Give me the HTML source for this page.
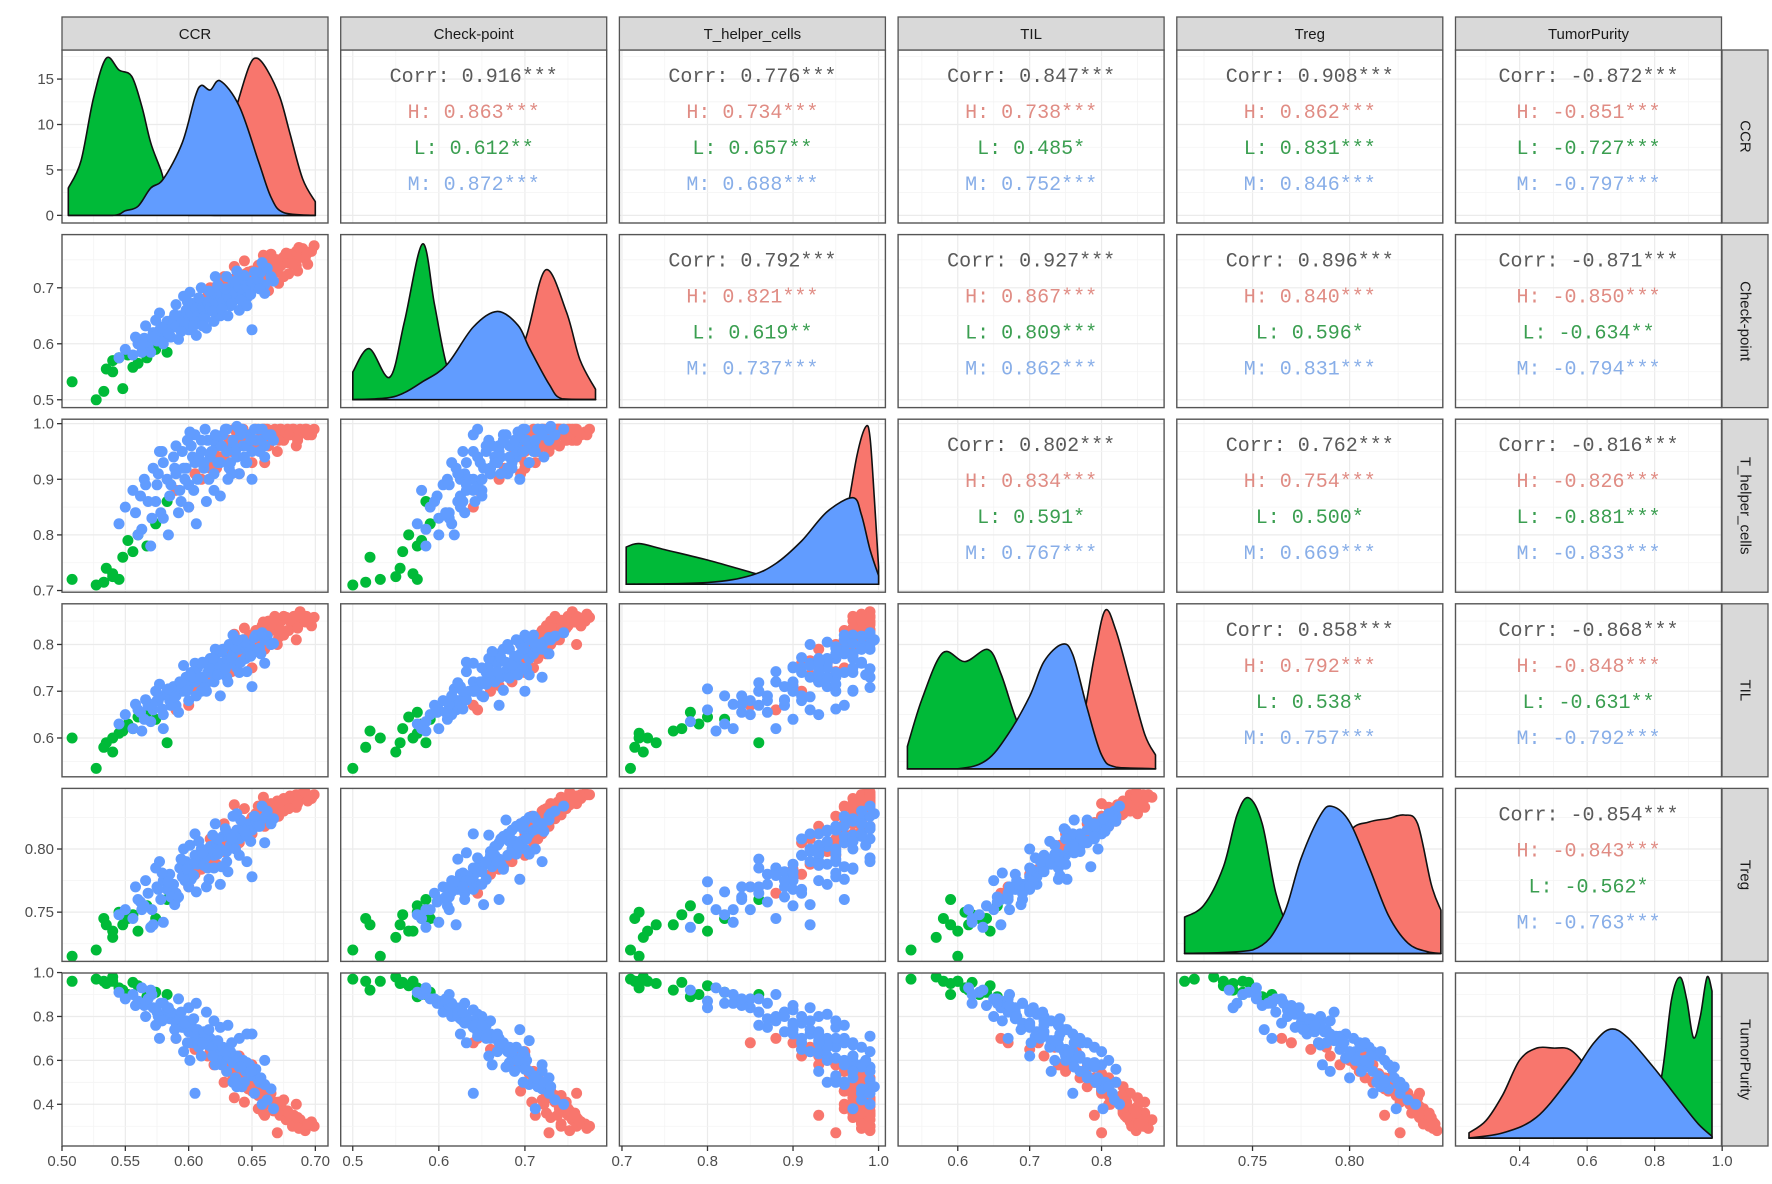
<!DOCTYPE html>
<html><head><meta charset="utf-8"><title>Pairs plot</title>
<style>html,body{margin:0;padding:0;background:#fff}svg{display:block}</style></head>
<body>
<svg id="chart" width="1772" height="1184" viewBox="0 0 1772 1184" xmlns="http://www.w3.org/2000/svg"></svg>
<script>
const varNames=['CCR','Check-point','T_helper_cells','TIL','Treg','TumorPurity'];
const varDomains=[[0.50,0.71],[0.486,0.795],[0.697,1.008],[0.517,0.887],[0.711,0.848],[0.21,0.998]];
const tickCCR=[0.50,0.55,0.60,0.65,0.70];
const tickCP=[0.5,0.6,0.7];
const tickTH=[0.7,0.8,0.9,1.0];
const tickTIL=[0.6,0.7,0.8];
const tickTREG=[0.75,0.80];
const tickTP=[0.4,0.6,0.8,1.0];
const tickLabelCCR=['0.50','0.55','0.60','0.65','0.70'];
const tickLabelCP=['0.5','0.6','0.7'];
const tickLabelTH=['0.7','0.8','0.9','1.0'];
const tickLabelTIL=['0.6','0.7','0.8'];
const tickLabelTREG=['0.75','0.80'];
const tickLabelTP=['0.4','0.6','0.8','1.0'];
const densTicks=[0,5,10,15];
const densTickLabels=['0','5','10','15'];
const groups=['H','L','M'];
const groupColors=['#F8766D','#00BA38','#619CFF'];
const groupText=['#e08c84','#3a9e50','#88aee8'];

// scatter rows: [CCR, CP, Th, TIL, Treg, TP]
const pointsH=[
[0.590,0.645,0.88,0.66,0.765,0.70],[0.605,0.660,0.91,0.70,0.780,0.65],[0.615,0.685,0.93,0.72,0.790,0.62],
[0.620,0.700,0.95,0.74,0.795,0.58],[0.625,0.690,0.94,0.76,0.800,0.60],[0.630,0.710,0.96,0.75,0.805,0.55],
[0.632,0.700,0.97,0.78,0.810,0.57],[0.635,0.715,0.95,0.77,0.808,0.52],[0.638,0.705,0.98,0.80,0.815,0.54],
[0.640,0.720,0.96,0.79,0.812,0.50],[0.643,0.710,0.99,0.81,0.818,0.52],[0.645,0.725,0.97,0.78,0.820,0.48],
[0.648,0.715,0.98,0.82,0.822,0.50],[0.650,0.730,0.96,0.80,0.825,0.46],[0.653,0.720,0.99,0.83,0.828,0.48],
[0.655,0.735,0.97,0.81,0.824,0.44],[0.658,0.725,0.98,0.84,0.830,0.45],[0.660,0.740,0.99,0.82,0.832,0.42],
[0.663,0.730,0.97,0.85,0.828,0.43],[0.665,0.745,0.98,0.83,0.835,0.40],[0.668,0.735,0.99,0.86,0.833,0.41],
[0.670,0.750,0.98,0.84,0.838,0.38],[0.673,0.740,0.99,0.85,0.836,0.39],[0.675,0.755,0.97,0.86,0.840,0.36],
[0.678,0.745,0.99,0.83,0.838,0.37],[0.680,0.760,0.98,0.85,0.842,0.34],[0.683,0.750,0.99,0.86,0.840,0.35],
[0.685,0.765,0.98,0.84,0.843,0.32],[0.688,0.755,0.99,0.87,0.841,0.33],[0.690,0.770,0.985,0.85,0.844,0.31],
[0.693,0.760,0.99,0.86,0.842,0.30],[0.697,0.765,0.98,0.84,0.840,0.32],[0.670,0.728,0.95,0.80,0.826,0.27],
[0.660,0.712,0.93,0.79,0.818,0.35],[0.640,0.695,0.91,0.76,0.805,0.62],[0.655,0.740,0.96,0.83,0.834,0.38],
[0.675,0.720,0.985,0.82,0.830,0.42],[0.600,0.640,0.85,0.67,0.770,0.68],[0.650,0.700,0.93,0.75,0.812,0.58],
[0.665,0.760,0.97,0.80,0.836,0.45],[0.685,0.740,0.96,0.81,0.833,0.40],[0.628,0.720,0.96,0.79,0.820,0.50],
[0.622,0.676,0.92,0.735,0.788,0.66],[0.628,0.695,0.94,0.752,0.798,0.61],[0.634,0.688,0.95,0.742,0.803,0.58],
[0.642,0.705,0.97,0.778,0.812,0.55],[0.647,0.728,0.98,0.805,0.818,0.47],[0.652,0.712,0.97,0.790,0.821,0.52],
[0.657,0.742,0.985,0.828,0.827,0.44],[0.662,0.722,0.99,0.812,0.831,0.40],[0.667,0.752,0.98,0.845,0.835,0.37],
[0.672,0.738,0.99,0.832,0.837,0.35],[0.677,0.762,0.985,0.858,0.839,0.33],[0.682,0.742,0.99,0.842,0.841,0.30],
[0.687,0.772,0.98,0.865,0.843,0.29],[0.692,0.752,0.99,0.848,0.845,0.28],[0.699,0.775,0.99,0.858,0.843,0.30],
[0.663,0.695,0.96,0.800,0.820,0.46],[0.671,0.708,0.97,0.815,0.826,0.41],[0.679,0.725,0.98,0.830,0.832,0.36],
[0.644,0.748,0.97,0.835,0.832,0.41],[0.610,0.670,0.90,0.712,0.784,0.68],[0.636,0.738,0.99,0.822,0.835,0.43],
[0.686,0.730,0.97,0.835,0.836,0.34],[0.694,0.742,0.98,0.852,0.838,0.31],[0.659,0.758,0.99,0.848,0.841,0.36],
[0.617,0.700,0.92,0.765,0.808,0.64]
];
const pointsL=[
[0.508,0.532,0.72,0.60,0.715,0.96],[0.527,0.500,0.71,0.535,0.72,0.97],[0.533,0.515,0.715,0.58,0.745,0.96],
[0.535,0.555,0.74,0.59,0.74,0.95],[0.540,0.570,0.73,0.60,0.735,0.96],[0.545,0.575,0.72,0.61,0.75,0.93],
[0.548,0.520,0.76,0.615,0.74,0.92],[0.552,0.580,0.79,0.63,0.745,0.90],[0.560,0.565,0.80,0.645,0.735,0.94],
[0.567,0.575,0.78,0.655,0.755,0.89],[0.574,0.590,0.82,0.64,0.745,0.91],[0.583,0.585,0.86,0.59,0.76,0.90],
[0.540,0.550,0.725,0.57,0.73,0.98],[0.556,0.558,0.77,0.62,0.748,0.955]
];
const pointsM=[
[0.545,0.575,0.82,0.63,0.748,0.91],[0.550,0.590,0.85,0.65,0.752,0.88],[0.556,0.580,0.88,0.62,0.745,0.90],
[0.560,0.600,0.80,0.66,0.760,0.87],[0.565,0.610,0.90,0.64,0.755,0.85],[0.568,0.595,0.86,0.67,0.765,0.88],
[0.572,0.620,0.92,0.66,0.740,0.84],[0.575,0.605,0.89,0.68,0.770,0.82],[0.578,0.630,0.84,0.69,0.760,0.86],
[0.580,0.615,0.93,0.65,0.775,0.80],[0.583,0.640,0.90,0.70,0.768,0.83],[0.585,0.625,0.87,0.68,0.780,0.79],
[0.588,0.645,0.94,0.71,0.772,0.81],[0.590,0.630,0.91,0.69,0.765,0.77],[0.593,0.650,0.88,0.72,0.785,0.80],
[0.595,0.640,0.95,0.70,0.778,0.75],[0.598,0.660,0.92,0.73,0.790,0.78],[0.600,0.645,0.89,0.71,0.782,0.73],
[0.602,0.655,0.96,0.74,0.776,0.76],[0.605,0.665,0.93,0.72,0.795,0.71],[0.607,0.650,0.90,0.75,0.788,0.74],
[0.610,0.670,0.95,0.73,0.792,0.69],[0.612,0.660,0.92,0.76,0.798,0.72],[0.615,0.675,0.97,0.74,0.785,0.67],
[0.617,0.665,0.94,0.77,0.802,0.70],[0.620,0.680,0.91,0.75,0.795,0.65],[0.622,0.670,0.96,0.78,0.805,0.68],
[0.625,0.685,0.93,0.76,0.800,0.63],[0.627,0.675,0.98,0.79,0.810,0.66],[0.630,0.690,0.95,0.77,0.798,0.61],
[0.632,0.680,0.92,0.80,0.812,0.64],[0.635,0.695,0.97,0.78,0.806,0.59],[0.638,0.685,0.94,0.75,0.815,0.62],
[0.640,0.700,0.99,0.79,0.808,0.57],[0.643,0.690,0.96,0.81,0.818,0.60],[0.645,0.705,0.93,0.77,0.812,0.55],
[0.648,0.695,0.98,0.80,0.820,0.58],[0.650,0.710,0.95,0.78,0.815,0.53],[0.653,0.700,0.97,0.82,0.822,0.56],
[0.655,0.715,0.99,0.79,0.818,0.51],[0.660,0.705,0.96,0.81,0.825,0.49],[0.665,0.720,0.98,0.80,0.820,0.47],
[0.570,0.585,0.78,0.635,0.738,0.92],[0.600,0.625,0.85,0.68,0.770,0.84],[0.620,0.640,0.88,0.72,0.785,0.78],
[0.640,0.660,0.91,0.74,0.795,0.70],[0.610,0.700,0.97,0.70,0.800,0.62],[0.630,0.720,0.99,0.73,0.790,0.55],
[0.590,0.670,0.96,0.67,0.760,0.70],[0.650,0.625,0.90,0.71,0.778,0.72],[0.580,0.600,0.83,0.62,0.742,0.86],
[0.625,0.650,0.87,0.69,0.772,0.75],[0.660,0.690,0.94,0.76,0.805,0.60],[0.605,0.640,0.98,0.76,0.812,0.45],
[0.635,0.710,0.96,0.82,0.826,0.50],[0.597,0.635,0.90,0.70,0.775,0.77],[0.612,0.648,0.93,0.72,0.787,0.73],
[0.618,0.690,0.95,0.74,0.796,0.66],[0.633,0.668,0.93,0.76,0.803,0.64],[0.646,0.682,0.96,0.79,0.810,0.59],
[0.586,0.612,0.89,0.67,0.762,0.82],[0.603,0.672,0.94,0.73,0.788,0.68],[0.623,0.702,0.97,0.75,0.808,0.60],
[0.657,0.728,0.97,0.78,0.823,0.52],[0.576,0.622,0.91,0.68,0.768,0.80],[0.642,0.715,0.99,0.80,0.816,0.48],
[0.562,0.598,0.87,0.655,0.758,0.86],[0.571,0.612,0.83,0.672,0.752,0.90],[0.579,0.628,0.95,0.662,0.781,0.78],
[0.584,0.618,0.80,0.705,0.774,0.84],[0.589,0.652,0.92,0.688,0.756,0.74],[0.594,0.622,0.86,0.718,0.792,0.82],
[0.599,0.675,0.97,0.702,0.784,0.68],[0.604,0.632,0.88,0.742,0.779,0.79],[0.608,0.682,0.94,0.728,0.806,0.66],
[0.613,0.645,0.99,0.708,0.793,0.71],[0.616,0.694,0.90,0.752,0.776,0.74],[0.619,0.658,0.97,0.770,0.811,0.62],
[0.623,0.705,0.93,0.735,0.796,0.69],[0.626,0.662,0.96,0.785,0.786,0.58],[0.629,0.698,0.99,0.748,0.816,0.64],
[0.634,0.672,0.91,0.772,0.808,0.68],[0.637,0.712,0.95,0.795,0.800,0.52],[0.641,0.678,0.98,0.762,0.823,0.57],
[0.644,0.722,0.94,0.805,0.814,0.50],[0.649,0.688,0.97,0.775,0.806,0.55],[0.652,0.728,0.99,0.815,0.826,0.45],
[0.656,0.698,0.95,0.792,0.818,0.50],[0.662,0.735,0.98,0.818,0.830,0.42],[0.667,0.712,0.97,0.802,0.824,0.38],
[0.558,0.612,0.84,0.672,0.770,0.85],[0.566,0.632,0.89,0.682,0.775,0.80],[0.574,0.642,0.86,0.700,0.785,0.76],
[0.596,0.685,0.92,0.755,0.800,0.64],[0.606,0.615,0.82,0.690,0.766,0.86],[0.614,0.628,0.86,0.700,0.770,0.82],
[0.631,0.650,0.90,0.720,0.782,0.76],[0.646,0.668,0.93,0.742,0.790,0.72],[0.563,0.585,0.81,0.615,0.752,0.93],
[0.592,0.608,0.84,0.655,0.762,0.88],[0.621,0.720,0.98,0.790,0.820,0.58],[0.638,0.730,0.995,0.810,0.828,0.48],
[0.658,0.745,0.99,0.825,0.834,0.40],[0.601,0.692,0.985,0.735,0.803,0.60],[0.577,0.655,0.95,0.715,0.790,0.70],
[0.611,0.632,0.93,0.762,0.797,0.68]
];

// density curves: x values and heights (CCR in density units; others as fraction of panel height)
const dCCR_H_x=[0.600,0.610,0.620,0.630,0.640,0.648,0.654,0.662,0.672,0.680,0.690,0.700];
const dCCR_H_y=[0,0.5,3,8,13,16.5,17.3,16,13,9,4,1.5];
const dCCR_L_x=[0.505,0.515,0.525,0.535,0.545,0.555,0.563,0.570,0.578,0.585,0.600,0.620,0.700];
const dCCR_L_y=[3,6,13,17.3,16,15.3,12,8,5,2,0.3,0,0];
const dCCR_M_x=[0.505,0.540,0.550,0.560,0.570,0.580,0.595,0.605,0.610,0.617,0.625,0.640,0.655,0.665,0.675,0.700];
const dCCR_M_y=[0,0,0.5,1,3,4,8,13,14.3,13.8,14.8,12,6,2,0.3,0];
const dCP_H_x=[0.500,0.650,0.680,0.702,0.724,0.748,0.764,0.782];
const dCP_H_y=[0,0,0.08,0.37,0.75,0.51,0.23,0.06];
const dCP_L_x=[0.500,0.519,0.543,0.560,0.581,0.595,0.609,0.624,0.640,0.782];
const dCP_L_y=[0.16,0.295,0.13,0.45,0.90,0.55,0.20,0.05,0,0];
const dCP_M_x=[0.500,0.540,0.560,0.580,0.609,0.640,0.668,0.692,0.705,0.728,0.743,0.782];
const dCP_M_y=[0,0.01,0.04,0.10,0.20,0.42,0.51,0.43,0.30,0.09,0.005,0];
const dTH_H_x=[0.705,0.900,0.940,0.960,0.975,0.985,0.990,0.995,1.000];
const dTH_H_y=[0,0,0.05,0.35,0.75,0.91,0.85,0.5,0.1];
const dTH_L_x=[0.705,0.720,0.750,0.800,0.850,0.880,0.920,0.950,0.980,1.000];
const dTH_L_y=[0.215,0.235,0.20,0.14,0.07,0.03,0.01,0.02,0.01,0];
const dTH_M_x=[0.705,0.800,0.850,0.880,0.910,0.940,0.970,0.980,0.990,1.000];
const dTH_M_y=[0,0.01,0.05,0.12,0.25,0.42,0.50,0.40,0.20,0.05];
const dTIL_H_x=[0.530,0.720,0.750,0.770,0.790,0.805,0.820,0.840,0.860,0.875];
const dTIL_H_y=[0,0,0.05,0.2,0.65,0.915,0.8,0.5,0.2,0.08];
const dTIL_L_x=[0.530,0.550,0.579,0.610,0.642,0.660,0.680,0.700,0.720,0.875];
const dTIL_L_y=[0.13,0.4,0.67,0.62,0.69,0.55,0.3,0.12,0.03,0];
const dTIL_M_x=[0.530,0.600,0.640,0.670,0.700,0.720,0.745,0.760,0.780,0.800,0.820,0.875];
const dTIL_M_y=[0,0,0.05,0.20,0.42,0.62,0.72,0.66,0.35,0.08,0.01,0];
const dTREG_H_x=[0.715,0.770,0.790,0.800,0.810,0.820,0.828,0.835,0.842,0.847];
const dTREG_H_y=[0,0,0.4,0.7,0.76,0.78,0.80,0.75,0.4,0.25];
const dTREG_L_x=[0.715,0.725,0.735,0.742,0.748,0.755,0.762,0.770,0.780,0.800,0.810,0.847];
const dTREG_L_y=[0.21,0.28,0.5,0.8,0.90,0.75,0.35,0.12,0.05,0.02,0,0];
const dTREG_M_x=[0.715,0.750,0.765,0.775,0.785,0.791,0.800,0.810,0.820,0.830,0.840,0.847];
const dTREG_M_y=[0,0.02,0.2,0.55,0.8,0.85,0.76,0.5,0.22,0.06,0.01,0];
const dTP_H_x=[0.250,0.300,0.350,0.400,0.450,0.500,0.550,0.600,0.650,0.700,0.750,0.800,0.970];
const dTP_H_y=[0.03,0.1,0.25,0.45,0.52,0.52,0.51,0.4,0.2,0.08,0.02,0,0];
const dTP_L_x=[0.250,0.600,0.700,0.780,0.820,0.850,0.875,0.895,0.915,0.935,0.955,0.970];
const dTP_L_y=[0,0,0.02,0.1,0.35,0.8,0.93,0.8,0.58,0.7,0.93,0.85];
const dTP_M_x=[0.250,0.350,0.450,0.550,0.620,0.670,0.720,0.800,0.880,0.930,0.970];
const dTP_M_y=[0,0.03,0.12,0.35,0.55,0.63,0.58,0.40,0.2,0.08,0.01];

const corrTotal=[[null,'0.916***','0.776***','0.847***','0.908***','-0.872***'],
[null,null,'0.792***','0.927***','0.896***','-0.871***'],
[null,null,null,'0.802***','0.762***','-0.816***'],
[null,null,null,null,'0.858***','-0.868***'],
[null,null,null,null,null,'-0.854***']];
const corrH=[[null,'0.863***','0.734***','0.738***','0.862***','-0.851***'],
[null,null,'0.821***','0.867***','0.840***','-0.850***'],
[null,null,null,'0.834***','0.754***','-0.826***'],
[null,null,null,null,'0.792***','-0.848***'],
[null,null,null,null,null,'-0.843***']];
const corrL=[[null,'0.612**','0.657**','0.485*','0.831***','-0.727***'],
[null,null,'0.619**','0.809***','0.596*','-0.634**'],
[null,null,null,'0.591*','0.500*','-0.881***'],
[null,null,null,null,'0.538*','-0.631**'],
[null,null,null,null,null,'-0.562*']];
const corrM=[[null,'0.872***','0.688***','0.752***','0.846***','-0.797***'],
[null,null,'0.737***','0.862***','0.831***','-0.794***'],
[null,null,null,'0.767***','0.669***','-0.833***'],
[null,null,null,null,'0.757***','-0.792***'],
[null,null,null,null,null,'-0.763***']];

const svg=document.getElementById('chart');
const NS='http://www.w3.org/2000/svg';
const PX0=62,PW=266,PSTEP=278.7,PY0=50,PH=173,PYSTEP=184.6;
const ticksAll=[tickCCR,tickCP,tickTH,tickTIL,tickTREG,tickTP];
const tickLabelsAll=[tickLabelCCR,tickLabelCP,tickLabelTH,tickLabelTIL,tickLabelTREG,tickLabelTP];
const pointSets=[pointsH,pointsL,pointsM];
const densX=[[dCCR_H_x,dCCR_L_x,dCCR_M_x],[dCP_H_x,dCP_L_x,dCP_M_x],[dTH_H_x,dTH_L_x,dTH_M_x],[dTIL_H_x,dTIL_L_x,dTIL_M_x],[dTREG_H_x,dTREG_L_x,dTREG_M_x],[dTP_H_x,dTP_L_x,dTP_M_x]];
const densY=[[dCCR_H_y,dCCR_L_y,dCCR_M_y],[dCP_H_y,dCP_L_y,dCP_M_y],[dTH_H_y,dTH_L_y,dTH_M_y],[dTIL_H_y,dTIL_L_y,dTIL_M_y],[dTREG_H_y,dTREG_L_y,dTREG_M_y],[dTP_H_y,dTP_L_y,dTP_M_y]];

function mk(tag,attrs,parent){const e=document.createElementNS(NS,tag);for(const k in attrs)e.setAttribute(k,attrs[k]);(parent||svg).appendChild(e);return e;}
function px(c){return PX0+c*PSTEP;}
function py(r){return PY0+r*PYSTEP;}
function xScale(c,v){const d=varDomains[c];return px(c)+(v-d[0])/(d[1]-d[0])*PW;}
function yScale(r,v){const d=varDomains[r];return py(r)+PH-(v-d[0])/(d[1]-d[0])*PH;}
function dScale(r,v){const d=r===0?[-0.84,18.2]:[-0.046,0.954];return py(r)+PH-(v-d[0])/(d[1]-d[0])*PH;}
function smoothPath(pts,base){let s='M'+pts[0][0].toFixed(1)+','+pts[0][1].toFixed(1);for(let i=0;i<pts.length-1;i++){const p0=pts[i-1]||pts[i],p1=pts[i],p2=pts[i+1],p3=pts[i+2]||p2;
const c1x=p1[0]+(p2[0]-p0[0])/6,c1y=Math.min(p1[1]+(p2[1]-p0[1])/6,base),c2x=p2[0]-(p3[0]-p1[0])/6,c2y=Math.min(p2[1]-(p3[1]-p1[1])/6,base);
s+=' C'+c1x.toFixed(1)+','+c1y.toFixed(1)+' '+c2x.toFixed(1)+','+c2y.toFixed(1)+' '+p2[0].toFixed(1)+','+p2[1].toFixed(1);}return s;}

const defs=mk('defs',{});
for(let r=0;r<6;r++){
  const rs=mk('g',{});
  
  
  mk('rect',{x:1722,y:py(r),width:46,height:PH,fill:'#d9d9d9',stroke:'#555','stroke-width':1.3},rs);
  const rt=mk('text',{x:0,y:0,transform:`translate(${1745},${py(r)+PH/2}) rotate(90)`,'text-anchor':'middle','dominant-baseline':'central','font-family':'Liberation Sans, sans-serif','font-size':15,fill:'#1a1a1a'},rs);
  rt.textContent=varNames[r];
  for(let c=0;c<6;c++){
    const g=mk('g',{});
    
    
    const cp=mk('clipPath',{id:'cl'+r+'_'+c},defs);
    mk('rect',{x:px(c),y:py(r),width:PW,height:PH},cp);
    mk('rect',{x:px(c),y:py(r),width:PW,height:PH,fill:'#fff'},g);
    const grid=mk('g',{'clip-path':`url(#cl${r}_${c})`},g);
    
    
    const xt=ticksAll[c];const st=xt[1]-xt[0];
    for(let k=-1;k<=xt.length;k++){const v=xt[0]+k*st;
      mk('line',{x1:xScale(c,v),x2:xScale(c,v),y1:py(r),y2:py(r)+PH,stroke:'#ebebeb','stroke-width':1.2},grid);
      mk('line',{x1:xScale(c,v+st/2),x2:xScale(c,v+st/2),y1:py(r),y2:py(r)+PH,stroke:'#f4f4f4','stroke-width':0.8},grid);}
    if(r===0){for(let k=-1;k<=densTicks.length;k++){const v=k*5;
      mk('line',{x1:px(c),x2:px(c)+PW,y1:dScale(0,v),y2:dScale(0,v),stroke:'#ebebeb','stroke-width':1.2},grid);
      mk('line',{x1:px(c),x2:px(c)+PW,y1:dScale(0,v+2.5),y2:dScale(0,v+2.5),stroke:'#f4f4f4','stroke-width':0.8},grid);}}
    else{const yt=ticksAll[r];const sy=yt[1]-yt[0];
      for(let k=-1;k<=yt.length;k++){const v=yt[0]+k*sy;
      mk('line',{x1:px(c),x2:px(c)+PW,y1:yScale(r,v),y2:yScale(r,v),stroke:'#ebebeb','stroke-width':1.2},grid);
      mk('line',{x1:px(c),x2:px(c)+PW,y1:yScale(r,v+sy/2),y2:yScale(r,v+sy/2),stroke:'#f4f4f4','stroke-width':0.8},grid);}}
    const body=mk('g',{'clip-path':`url(#cl${r}_${c})`},g);
    if(r===c){
      const base=dScale(r,0);
      for(let gi=0;gi<3;gi++){
        const xs=densX[r][gi],ys=densY[r][gi];
        const pts=xs.map((v,i)=>[xScale(c,v),Math.min(dScale(r,ys[i]),base)]);
        const d=smoothPath(pts,base)+` L${pts[pts.length-1][0].toFixed(1)},${base} L${pts[0][0].toFixed(1)},${base} Z`;
        const p=mk('path',{d:d,fill:groupColors[gi],stroke:'#111','stroke-width':1.6,'stroke-linejoin':'round'},body);
        
        
      }
    } else if(r>c){
      for(let gi=0;gi<3;gi++){
        pointSets[gi].forEach(pt=>{
          const ci=mk('circle',{cx:xScale(c,pt[c]).toFixed(1),cy:yScale(r,pt[r]).toFixed(1),r:5.5,fill:groupColors[gi]},body);
          
          
        });
      }
    } else {
      const cx=px(c)+PW/2;
      const lines=[['Corr: '+corrTotal[r][c],'#5a5a5a'],['H: '+corrH[r][c],groupText[0]],['L: '+corrL[r][c],groupText[1]],['M: '+corrM[r][c],groupText[2]]];
      lines.forEach((ln,i)=>{
        const t=mk('text',{x:cx,y:py(r)+32+i*36,'text-anchor':'middle','font-family':'Liberation Mono, monospace','font-size':20,fill:ln[1]},body);
        
        
        t.textContent=ln[0];
      });
    }
    mk('rect',{x:px(c),y:py(r),width:PW,height:PH,fill:'none',stroke:'#555','stroke-width':1.4},g);
  }
}
for(let c=0;c<6;c++){
  const s=mk('g',{});
  
  
  mk('rect',{x:px(c),y:17,width:PW,height:33,fill:'#d9d9d9',stroke:'#555','stroke-width':1.3},s);
  const t=mk('text',{x:px(c)+PW/2,y:39,'text-anchor':'middle','font-family':'Liberation Sans, sans-serif','font-size':15,fill:'#1a1a1a'},s);
  t.textContent=varNames[c];
}
const xa=mk('g',{});


for(let c=0;c<6;c++){
  const yb=py(5)+PH;
  ticksAll[c].forEach((v,i)=>{const x=xScale(c,v);
    mk('line',{x1:x,x2:x,y1:yb,y2:yb+5,stroke:'#333','stroke-width':1.3},xa);
    const t=mk('text',{x:x,y:yb+20,'text-anchor':'middle','font-family':'Liberation Sans, sans-serif','font-size':15,fill:'#4d4d4d'},xa);
    
    
    t.textContent=tickLabelsAll[c][i];});
}
const ya=mk('g',{});


for(let r=0;r<6;r++){
  const tv=r===0?densTicks:ticksAll[r];const tl=r===0?densTickLabels:tickLabelsAll[r];
  tv.forEach((v,i)=>{const y=r===0?dScale(0,v):yScale(r,v);
    mk('line',{x1:PX0-5,x2:PX0,y1:y,y2:y,stroke:'#333','stroke-width':1.3},ya);
    const t=mk('text',{x:PX0-8,y:y+5,'text-anchor':'end','font-family':'Liberation Sans, sans-serif','font-size':15,fill:'#4d4d4d'},ya);
    
    
    t.textContent=tl[i];});
}
</script>
</body></html>
